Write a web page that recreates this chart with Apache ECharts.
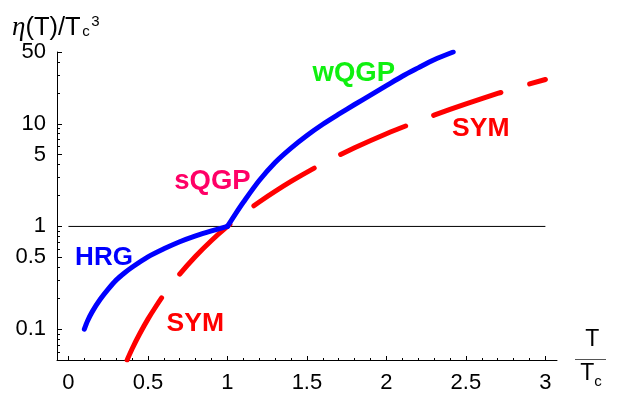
<!DOCTYPE html>
<html><head><meta charset="utf-8">
<script src="https://cdn.jsdelivr.net/npm/echarts@6/dist/echarts.min.js"></script>
<style>html,body{margin:0;padding:0;background:#fff}#c{width:618px;height:394px}</style>
</head><body><div id="c"></div>
<script>
// HRG branch (blue, T < Tc)
const hrgX = [0.10, 0.12, 0.15, 0.20, 0.25, 0.30, 0.35, 0.40, 0.50, 0.60, 0.70, 0.80, 0.90, 1.00];
const hrgY = [0.10, 0.12, 0.148, 0.195, 0.245, 0.30, 0.35, 0.40, 0.505, 0.605, 0.71, 0.81, 0.905, 1.00];
// QGP branch (blue, T > Tc)
const qgpX = [1.00, 1.05, 1.10, 1.20, 1.30, 1.40, 1.50, 1.60, 1.70, 1.80, 1.90, 2.00, 2.10, 2.20, 2.30, 2.42];
const qgpY = [1.00, 1.32, 1.72, 2.8, 4.2, 5.8, 7.7, 9.9, 12.4, 15.4, 19, 23.5, 29, 35, 42, 50];
// SYM (red dashed)
const symX = [0.369, 0.40, 0.45, 0.50, 0.55, 0.60, 0.70, 0.80, 0.90, 1.00, 1.10, 1.20, 1.40, 1.60, 1.80, 2.00, 2.20, 2.40, 2.60, 2.80, 3.00];
const symY = [0.05, 0.064, 0.091, 0.125, 0.166, 0.216, 0.343, 0.512, 0.73, 1.00, 1.33, 1.73, 2.74, 4.1, 5.83, 8.0, 10.6, 13.8, 17.6, 22.0, 27.0];
// reference line eta/Tc^3 = 1
const refX = [0, 3];
const refY = [1, 1];
// ticks
const xMajor = [0, 0.5, 1, 1.5, 2, 2.5, 3];
const xMinor = [0.1, 0.2, 0.3, 0.4, 0.6, 0.7, 0.8, 0.9, 1.1, 1.2, 1.3, 1.4, 1.6, 1.7, 1.8, 1.9, 2.1, 2.2, 2.3, 2.4, 2.6, 2.7, 2.8, 2.9];
const yMajor = [0.1, 0.5, 1, 5, 10, 50];
const yMinor = [0.06, 0.07, 0.08, 0.09, 0.2, 0.3, 0.4, 0.6, 0.7, 0.8, 0.9, 2, 3, 4, 6, 7, 8, 9, 20, 30, 40];

const zip = (a, b) => a.map((v, i) => [v, b[i]]);
const FONT = "'Liberation Sans', Arial, Helvetica, sans-serif";

const chart = echarts.init(document.getElementById('c'), null, { renderer: 'canvas' });
const xBase = { type: 'value', min: -0.072, max: 3.073, splitLine: { show: false } };
const yBase = { type: 'log', logBase: 10, min: 0.05, max: 50, splitLine: { show: false } };
chart.setOption({
  animation: false,
  backgroundColor: '#fff',
  grid: { left: 57, right: 61, top: 52, bottom: 34, containLabel: false, outerBoundsMode: 'none' },
  xAxis: [
    Object.assign({}, xBase, {
      position: 'bottom',
      axisLine: { show: true, onZero: false, lineStyle: { color: '#000', width: 1 } },
      axisTick: { show: true, inside: true, length: 4, customValues: xMajor, lineStyle: { color: '#000' } },
      axisLabel: { show: true, customValues: xMajor, margin: 12, color: '#000', fontSize: 22, fontFamily: FONT,
        formatter: v => String(v) }
    }),
    Object.assign({}, xBase, {
      position: 'bottom',
      axisLine: { show: false, onZero: false },
      axisTick: { show: true, inside: true, length: 2, customValues: xMinor, lineStyle: { color: '#000' } },
      axisLabel: { show: false }
    })
  ],
  yAxis: [
    Object.assign({}, yBase, {
      position: 'left',
      axisLine: { show: true, onZero: false, lineStyle: { color: '#000', width: 1 } },
      axisTick: { show: true, inside: true, length: 5, customValues: yMajor, lineStyle: { color: '#000' } },
      axisLabel: { show: true, customValues: yMajor, margin: 11, color: '#000', fontSize: 22, fontFamily: FONT,
        formatter: v => String(v) }
    }),
    Object.assign({}, yBase, {
      position: 'left',
      offset: 0,
      axisLine: { show: false, onZero: false },
      axisTick: { show: true, inside: true, length: 3, customValues: yMinor, lineStyle: { color: '#000' } },
      axisLabel: { show: false }
    })
  ],
  series: [
    { type: 'line', data: zip(refX, refY), symbol: 'none', z: 1, silent: true,
      lineStyle: { color: '#000', width: 1 } },
    { type: 'line', data: zip(hrgX, hrgY), symbol: 'none', smooth: 0.3, z: 3,
      lineStyle: { color: '#0000ff', width: 5, cap: 'round', join: 'round' } },
    { type: 'line', data: zip(qgpX, qgpY), symbol: 'none', smooth: 0.3, z: 3,
      lineStyle: { color: '#0000ff', width: 5, cap: 'round', join: 'round' } },
    { type: 'line', data: zip(symX, symY), symbol: 'none', smooth: 0.3, z: 2,
      lineStyle: { color: '#ff0000', width: 5, type: [71, 30], cap: 'round', join: 'round' } }
  ],
  graphic: [
    { type: 'text', x: 12, y: 28, style: { text: '{e|η}(T)/T', font: '25.5px ' + FONT, fill: '#000', verticalAlign: 'middle',
        rich: { e: { fontFamily: "'Liberation Serif', serif", fontStyle: 'italic', fontSize: 27 } } } },
    { type: 'text', x: 86, y: 31.5, style: { text: 'c', font: '15px ' + FONT, fill: '#000', align: 'center', verticalAlign: 'middle' } },
    { type: 'text', x: 95.5, y: 21.5, style: { text: '3', font: '15px ' + FONT, fill: '#000', align: 'center', verticalAlign: 'middle' } },
    { type: 'text', x: 592.3, y: 340, style: { text: 'T', font: '23px ' + FONT, fill: '#000', align: 'center', verticalAlign: 'middle' } },
    { type: 'line', shape: { x1: 575, y1: 359.5, x2: 606, y2: 359.5 }, style: { stroke: '#555', lineWidth: 1 } },
    { type: 'text', x: 587.2, y: 373.3, style: { text: 'T', font: '23px ' + FONT, fill: '#000', align: 'center', verticalAlign: 'middle' } },
    { type: 'text', x: 598, y: 382.3, style: { text: 'c', font: '15px ' + FONT, fill: '#000', align: 'center', verticalAlign: 'middle' } },
    { type: 'text', x: 104, y: 258, style: { text: 'HRG', font: 'bold 26px ' + FONT, fill: '#0000ff', align: 'center', verticalAlign: 'middle' } },
    { type: 'text', x: 212.5, y: 181.3, style: { text: 'sQGP', font: 'bold 27.5px ' + FONT, fill: '#ff0066', align: 'center', verticalAlign: 'middle' } },
    { type: 'text', x: 353.8, y: 73, style: { text: 'wQGP', font: 'bold 27.5px ' + FONT, fill: '#10f010', align: 'center', verticalAlign: 'middle' } },
    { type: 'text', x: 480.8, y: 128.3, style: { text: 'SYM', font: 'bold 26.5px ' + FONT, fill: '#ff0000', align: 'center', verticalAlign: 'middle' } },
    { type: 'text', x: 195.3, y: 323.3, style: { text: 'SYM', font: 'bold 26.5px ' + FONT, fill: '#ff0000', align: 'center', verticalAlign: 'middle' } }
  ]
});
</script></body></html>
